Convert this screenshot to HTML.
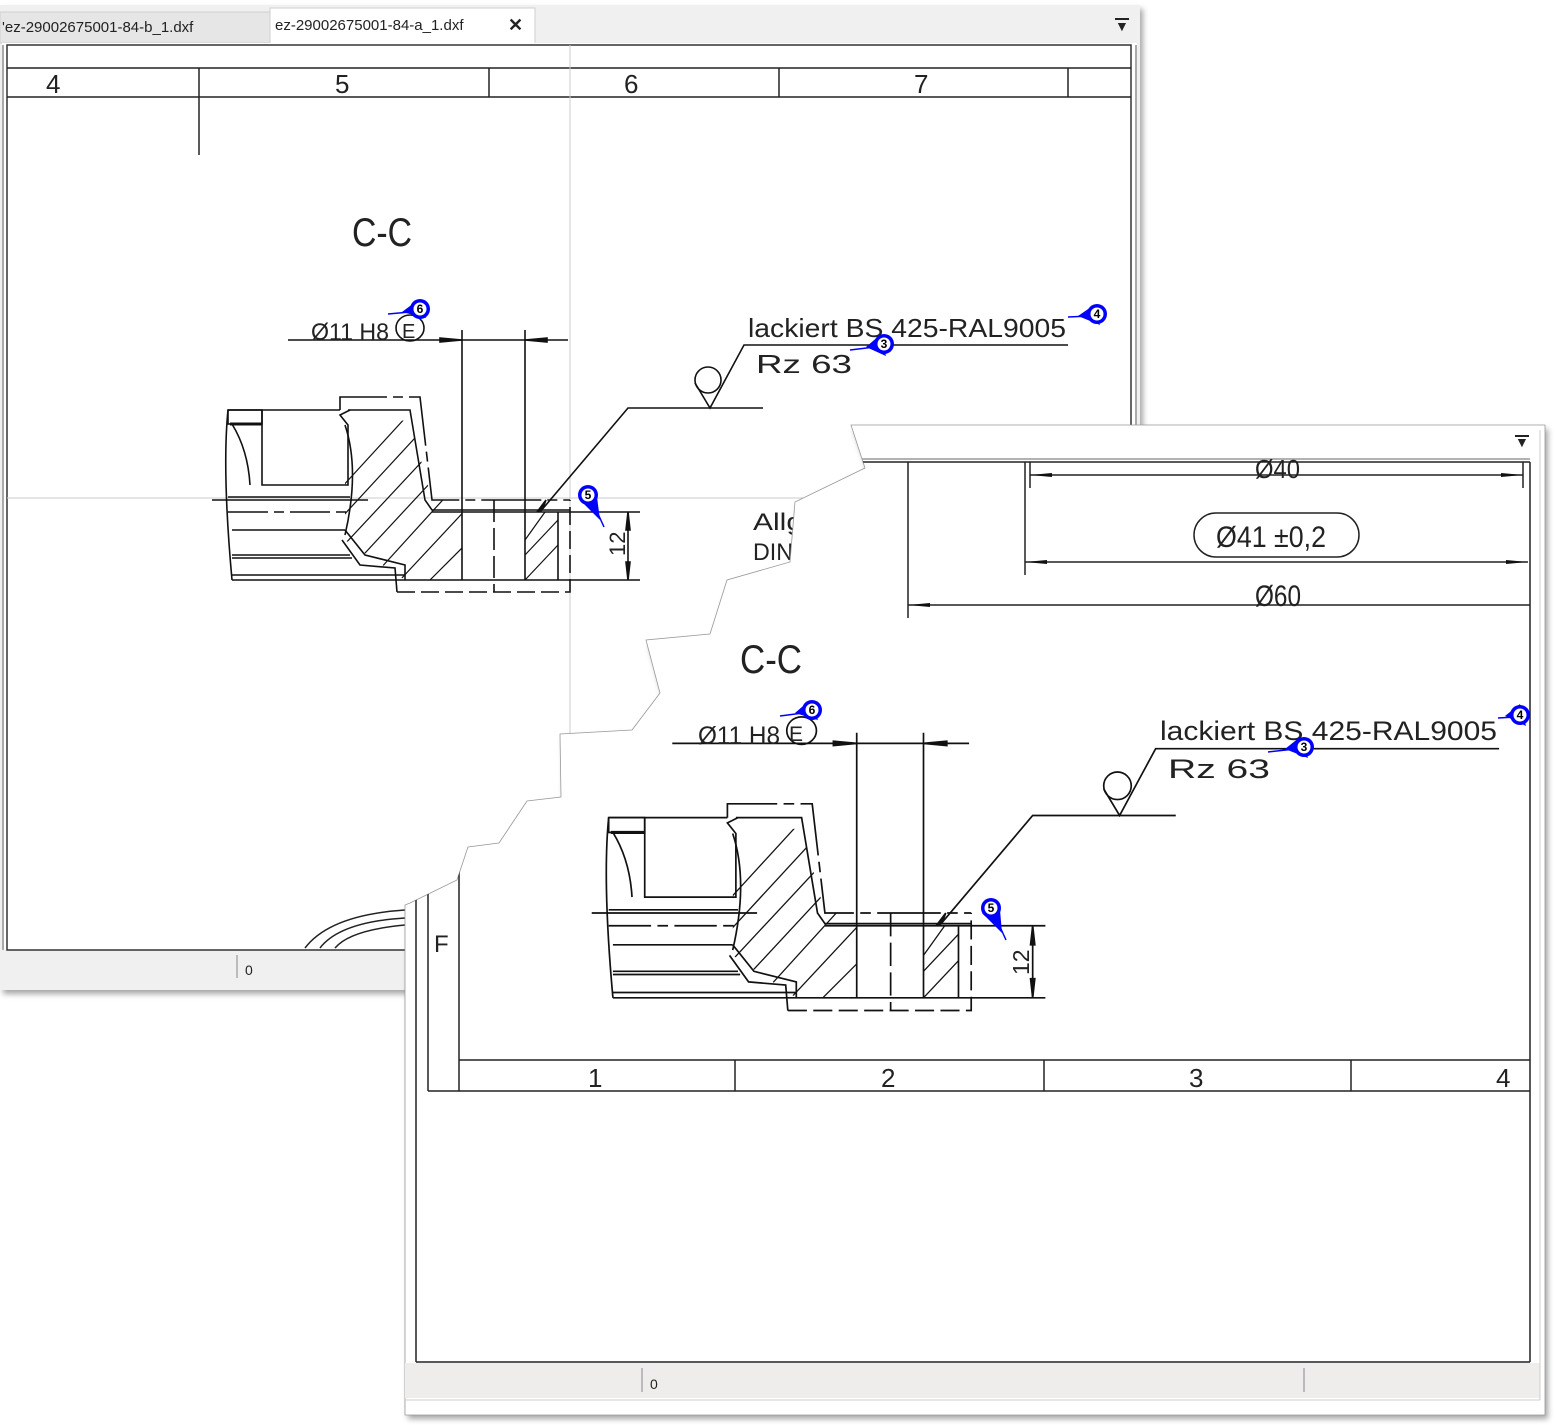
<!DOCTYPE html>
<html><head><meta charset="utf-8"><style>
html,body{margin:0;padding:0;background:#fff;}
svg{display:block;}
text{font-family:"Liberation Sans",sans-serif;}
.cad{font-family:"Liberation Sans",sans-serif;fill:#222;}
</style></head><body>
<svg width="1555" height="1425" viewBox="0 0 1555 1425" xmlns="http://www.w3.org/2000/svg">
<defs>
<filter id="sh" x="-5%" y="-5%" width="110%" height="110%"><feDropShadow dx="3" dy="4" stdDeviation="3" flood-color="#000" flood-opacity="0.35"/></filter>
<clipPath id="hatchclip"><polygon points="345,425 410,420 432,500 462,500 462,580 405,580 345,540"/></clipPath>
<g id="part" fill="none" stroke="#111" stroke-width="1.6">
  <!-- left piece -->
  <rect x="228" y="410" width="34" height="14" fill="#fff"/>
  <line x1="230" y1="424" x2="262" y2="424" stroke-width="3"/>
  <path d="M228,410 Q222,470 232,580"/>
  <path d="M232,424 Q248,450 250,485"/>
  <path d="M262,410 L262,485 L348,485 L348,425 L340,415 L350,410"/>
  <line x1="228" y1="410" x2="340" y2="410"/>
  <path d="M340,410 L340,397 L420,397 L432,500 L570,500" stroke-dasharray="60,6,10,6"/>
  <path d="M348,410 L410,410 L425,500 L432,510 L570,510"/>
  <line x1="432" y1="512" x2="640" y2="512"/>
  <path d="M345,425 Q360,470 345,535"/>
  <line x1="212" y1="500" x2="368" y2="500"/>
  <line x1="228" y1="497" x2="350" y2="497"/>
  <line x1="228" y1="512" x2="350" y2="512" stroke-dasharray="40,6,10,6"/>
  <line x1="232" y1="530" x2="345" y2="530"/>
  <line x1="232" y1="555" x2="350" y2="555"/>
  <line x1="232" y1="558" x2="352" y2="558"/>
  <path d="M345,530 L365,555 L405,565 L405,580"/>
  <path d="M342,540 L360,565 L395,568 L397,592"/>
  <line x1="232" y1="575" x2="405" y2="575"/>
  <line x1="232" y1="580" x2="640" y2="580"/>
  <path d="M397,592 L570,592 L570,500" stroke-dasharray="18,6"/>
  <line x1="462" y1="330" x2="462" y2="580"/>
  <line x1="525" y1="330" x2="525" y2="580"/>
  <line x1="494" y1="500" x2="494" y2="592" stroke-dasharray="22,6"/>
  <line x1="558" y1="512" x2="558" y2="580"/>
  <line x1="288" y1="340" x2="568" y2="340"/>
  <path d="M440,338 L462,340 L440,342Z" fill="#111"/>
  <path d="M547,338 L525,340 L547,342Z" fill="#111"/>
  <g clip-path="url(#hatchclip)" stroke-width="1.2">
    <line x1="330" y1="500" x2="440" y2="380"/><line x1="330" y1="530" x2="450" y2="400"/>
    <line x1="330" y1="560" x2="470" y2="410"/><line x1="340" y1="580" x2="470" y2="440"/>
    <line x1="370" y1="580" x2="470" y2="470"/><line x1="400" y1="580" x2="470" y2="505"/>
    <line x1="430" y1="580" x2="470" y2="540"/>
  </g>
  <line x1="525" y1="555" x2="558" y2="520" stroke-width="1.2"/>
  <line x1="525" y1="580" x2="558" y2="545" stroke-width="1.2"/>
  <line x1="525" y1="540" x2="545" y2="512" stroke-width="1.2"/>
  <!-- 12 dim -->
  <line x1="628" y1="512" x2="628" y2="580"/>
  <path d="M626,530 L628,512 L630,530Z M626,562 L628,580 L630,562Z" fill="#111"/>
  <!-- surface symbol -->
  <circle cx="708" cy="380" r="13"/>
  <path d="M695,383 L710,408 L744,345 L1068,345"/>
  <path d="M540,512 L628,408 L763,408"/>
  <path d="M537,512 L546,500 L543,508Z" fill="#111"/>
  <!-- E circle -->
  <ellipse cx="410" cy="328" rx="14" ry="13"/>
</g>
<clipPath id="frontclip"><polygon points="851,425 1545,425 1545,1415 405,1415 405,905 410,903 457,880 468,847 499,843 527,801 561,797 560,734 632,730 660,693 646,640 710,634 727,580 790,562 795,502 865,468"/></clipPath>
</defs>

<!-- BACK WINDOW -->
<g filter="url(#sh)"><rect x="0" y="5" width="1140" height="985" fill="#f0f0f0"/></g>
<rect x="0" y="5" width="1140" height="985" fill="#f0f0f0"/>
<rect x="0" y="12" width="270" height="31" fill="#e6e6e6" stroke="#cfcfcf"/>
<rect x="270" y="8" width="265" height="36" fill="#fff" stroke="#cfcfcf"/>
<text x="2" y="32" font-size="15" fill="#222">'ez-29002675001-84-b_1.dxf</text>
<text x="275" y="30" font-size="15" fill="#222">ez-29002675001-84-a_1.dxf</text>
<text x="508" y="31" font-size="18" font-weight="bold" fill="#222">✕</text>
<text x="1115" y="31" font-size="14" fill="#222">▼</text>
<line x1="1115" y1="19" x2="1129" y2="19" stroke="#222" stroke-width="2"/>
<rect x="2" y="43" width="1135" height="907" fill="#fff"/>
<rect x="7" y="45" width="1124" height="905" fill="none" stroke="#333" stroke-width="1.5"/>
<line x1="3" y1="45" x2="3" y2="950" stroke="#555"/>
<line x1="1136" y1="45" x2="1136" y2="950" stroke="#555"/>
<line x1="7" y1="68" x2="1131" y2="68" stroke="#222" stroke-width="1.5"/>
<line x1="7" y1="97" x2="1131" y2="97" stroke="#222" stroke-width="1.5"/>
<g stroke="#222" stroke-width="1.5"><line x1="199" y1="68" x2="199" y2="155"/><line x1="489" y1="68" x2="489" y2="97"/><line x1="779" y1="68" x2="779" y2="97"/><line x1="1068" y1="68" x2="1068" y2="97"/></g>
<g class="cad" font-size="26"><text x="46" y="93">4</text><text x="335" y="93">5</text><text x="624" y="93">6</text><text x="914" y="93">7</text></g>
<line x1="570" y1="45" x2="570" y2="950" stroke="#ccc"/>
<line x1="7" y1="498" x2="1131" y2="498" stroke="#ccc"/>
<use href="#part"/>
<text class="cad" x="352" y="246" font-size="40" textLength="60" lengthAdjust="spacingAndGlyphs">C-C</text>
<text class="cad" x="311" y="340" font-size="24" textLength="78" lengthAdjust="spacingAndGlyphs">Ø11 H8</text>
<text class="cad" x="402" y="338" font-size="20">E</text>
<text class="cad" x="748" y="337" font-size="26" textLength="318" lengthAdjust="spacingAndGlyphs">lackiert BS 425-RAL9005</text>
<text class="cad" x="756" y="373" font-size="26" textLength="96" lengthAdjust="spacingAndGlyphs">Rz   63</text>
<text class="cad" x="625" y="556" font-size="22" transform="rotate(-90 625 556)">12</text>
<text class="cad" x="753" y="530" font-size="24" textLength="50" lengthAdjust="spacingAndGlyphs">Allg</text>
<text class="cad" x="753" y="560" font-size="24" textLength="40" lengthAdjust="spacingAndGlyphs">DIN</text>
<g fill="none" stroke="#222" stroke-width="1.5"><path d="M305,948 Q330,915 405,910"/><path d="M320,948 Q340,922 405,918"/><path d="M335,948 Q350,930 405,925"/></g>
<line x1="237" y1="955" x2="237" y2="978" stroke="#888"/>
<text x="245" y="975" font-size="14" fill="#222">0</text>

<!-- balloons back -->
<g id="balloons-back"></g>

<!-- FRONT WINDOW -->
<g filter="url(#sh)"><polygon points="851,425 1545,425 1545,1415 405,1415 405,905 410,903 457,880 468,847 499,843 527,801 561,797 560,734 632,730 660,693 646,640 710,634 727,580 790,562 795,502 865,468" fill="#fff"/></g>
<polygon points="851,425 1545,425 1545,1415 405,1415 405,905 410,903 457,880 468,847 499,843 527,801 561,797 560,734 632,730 660,693 646,640 710,634 727,580 790,562 795,502 865,468" fill="#fff" stroke="#999" stroke-width="0.8"/>
<g clip-path="url(#frontclip)">
  <rect x="405" y="1363" width="1135" height="35" fill="#efedec"/>
  <line x1="642" y1="1368" x2="642" y2="1392" stroke="#888"/>
  <line x1="1304" y1="1368" x2="1304" y2="1392" stroke="#888"/>
  <text x="650" y="1389" font-size="14" fill="#222">0</text>
  <line x1="405" y1="1400" x2="1540" y2="1400" stroke="#ccc"/>
  <line x1="1540" y1="430" x2="1540" y2="1400" stroke="#ccc"/>
  <text x="1515" y="447" font-size="14" fill="#222">▼</text>
  <line x1="1515" y1="436" x2="1529" y2="436" stroke="#222" stroke-width="2"/>
  <g stroke="#222" stroke-width="1.5" fill="none">
    <line x1="405" y1="459" x2="1530" y2="459" stroke="#999"/>
    <line x1="405" y1="462" x2="1530" y2="462"/>
    <line x1="1530" y1="462" x2="1530" y2="1362"/>
    <line x1="416" y1="462" x2="416" y2="1362"/>
    <line x1="416" y1="1362" x2="1530" y2="1362"/>
    <line x1="428" y1="462" x2="428" y2="1091"/>
    <line x1="459" y1="462" x2="459" y2="1091"/>
    <line x1="459" y1="1060" x2="1530" y2="1060"/>
    <line x1="428" y1="1091" x2="1530" y2="1091"/>
    <line x1="735" y1="1060" x2="735" y2="1091"/>
    <line x1="1044" y1="1060" x2="1044" y2="1091"/>
    <line x1="1351" y1="1060" x2="1351" y2="1091"/>
    <line x1="908" y1="462" x2="908" y2="618"/>
    <line x1="1025" y1="462" x2="1025" y2="575"/>
    <line x1="1030" y1="462" x2="1030" y2="488"/>
    <line x1="1523" y1="462" x2="1523" y2="488"/>
    <line x1="1030" y1="475" x2="1523" y2="475"/>
    <line x1="1025" y1="562" x2="1528" y2="562"/>
    <line x1="908" y1="605" x2="1530" y2="605"/>
    <rect x="1194" y="513" width="165" height="44" rx="22"/>
  </g>
  <g fill="#111">
    <path d="M1052,473 L1030,475 L1052,477Z M1501,473 L1523,475 L1501,477Z"/>
    <path d="M1047,560 L1025,562 L1047,564Z M1506,560 L1528,562 L1506,564Z"/>
    <path d="M930,603 L908,605 L930,607Z"/>
  </g>
  <text class="cad" x="1255" y="478" font-size="26" textLength="45" lengthAdjust="spacingAndGlyphs">Ø40</text>
  <text class="cad" x="1216" y="547" font-size="30" textLength="110" lengthAdjust="spacingAndGlyphs">Ø41 ±0,2</text>
  <text class="cad" x="1255" y="606" font-size="30" textLength="46" lengthAdjust="spacingAndGlyphs">Ø60</text>
  <g class="cad" font-size="26"><text x="588" y="1087">1</text><text x="881" y="1087">2</text><text x="1189" y="1087">3</text><text x="1496" y="1087">4</text></g>
  <text class="cad" x="434" y="952" font-size="24">F</text>
  <g transform="translate(367,383) scale(1.06)"><use href="#part"/></g>
  <text class="cad" x="740" y="673" font-size="40" textLength="62" lengthAdjust="spacingAndGlyphs">C-C</text>
  <text class="cad" x="698" y="744" font-size="25" textLength="82" lengthAdjust="spacingAndGlyphs">Ø11 H8</text>
  <text class="cad" x="789" y="741" font-size="21">E</text>
  <text class="cad" x="1160" y="740" font-size="27" textLength="337" lengthAdjust="spacingAndGlyphs">lackiert BS 425-RAL9005</text>
  <text class="cad" x="1168" y="778" font-size="27" textLength="102" lengthAdjust="spacingAndGlyphs">Rz   63</text>
  <text class="cad" x="1029" y="975" font-size="23" transform="rotate(-90 1029 975)">12</text>
</g>

<!-- balloons -->
<g font-family="Liberation Sans,sans-serif" font-weight="bold" font-size="12" text-anchor="middle">
  <g><line x1="388" y1="314" x2="410" y2="312" stroke="#00f" stroke-width="1.5"/><path d="M402,312 L418,300 L426,318Z" fill="#00f"/><circle cx="420" cy="309" r="10" fill="#00f"/><circle cx="420" cy="309" r="6.5" fill="#fff"/><text x="420" y="313">6</text></g>
  <g><line x1="850" y1="350" x2="875" y2="347" stroke="#00f" stroke-width="1.5"/><path d="M866,347 L880,335 L886,356Z" fill="#00f"/><circle cx="884" cy="344" r="10" fill="#00f"/><circle cx="884" cy="344" r="6.5" fill="#fff"/><text x="884" y="348">3</text></g>
  <g><line x1="1068" y1="317" x2="1090" y2="316" stroke="#00f" stroke-width="1.5"/><path d="M1078,316 L1094,305 L1100,325Z" fill="#00f"/><circle cx="1097" cy="314" r="10" fill="#00f"/><circle cx="1097" cy="314" r="6.5" fill="#fff"/><text x="1097" y="318">4</text></g>
  <g><line x1="594" y1="505" x2="604" y2="527" stroke="#00f" stroke-width="1.5"/><path d="M580,500 L600,520 L597,497Z" fill="#00f"/><circle cx="588" cy="495" r="10" fill="#00f"/><circle cx="588" cy="495" r="6.5" fill="#fff"/><text x="588" y="499">5</text></g>
  <g><line x1="780" y1="716" x2="803" y2="713" stroke="#00f" stroke-width="1.5"/><path d="M795,713 L810,700 L818,720Z" fill="#00f"/><circle cx="812" cy="710" r="10" fill="#00f"/><circle cx="812" cy="710" r="6.5" fill="#fff"/><text x="812" y="714">6</text></g>
  <g><line x1="1268" y1="752" x2="1295" y2="749" stroke="#00f" stroke-width="1.5"/><path d="M1285,749 L1300,737 L1308,758Z" fill="#00f"/><circle cx="1304" cy="747" r="10" fill="#00f"/><circle cx="1304" cy="747" r="6.5" fill="#fff"/><text x="1304" y="751">3</text></g>
  <g><line x1="1498" y1="718" x2="1515" y2="717" stroke="#00f" stroke-width="1.5"/><path d="M1505,716 L1520,704 L1526,726Z" fill="#00f"/><circle cx="1520" cy="715" r="10" fill="#00f"/><circle cx="1520" cy="715" r="6.5" fill="#fff"/><text x="1520" y="719">4</text></g>
  <g><line x1="996" y1="918" x2="1006" y2="940" stroke="#00f" stroke-width="1.5"/><path d="M982,913 L1002,933 L1000,910Z" fill="#00f"/><circle cx="991" cy="908" r="10" fill="#00f"/><circle cx="991" cy="908" r="6.5" fill="#fff"/><text x="991" y="912">5</text></g>
</g>
</svg>
</body></html>
